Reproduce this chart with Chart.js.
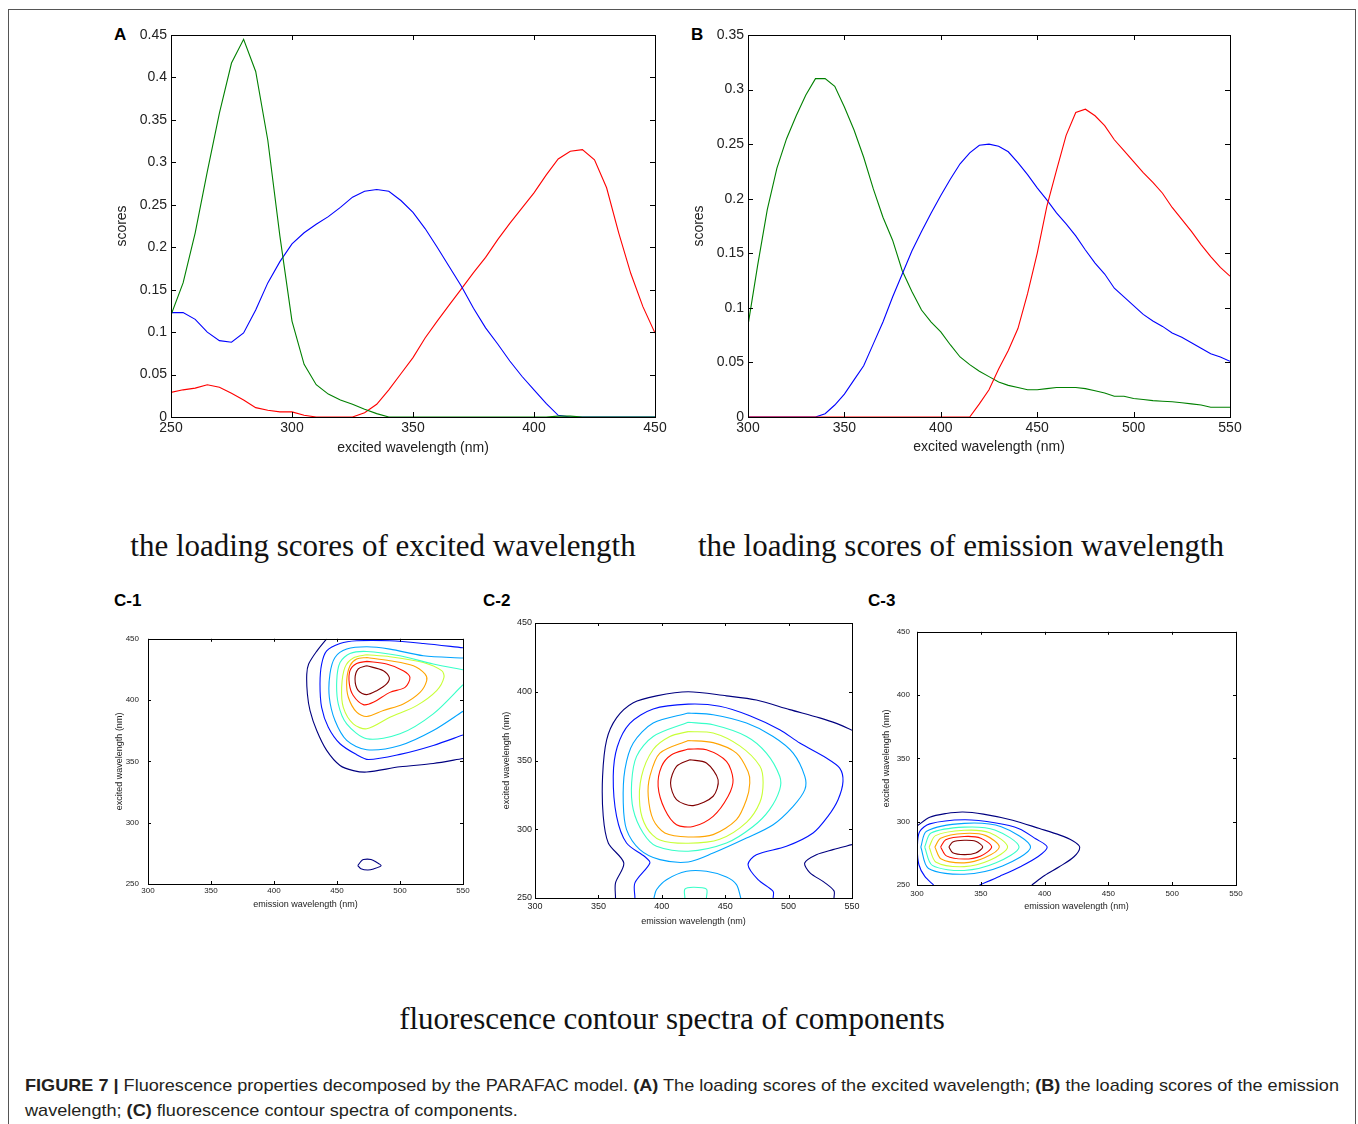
<!DOCTYPE html>
<html><head><meta charset="utf-8">
<script src="https://cdn.jsdelivr.net/npm/chart.js@4.4.1/dist/chart.umd.min.js"></script>
<style>
html,body{margin:0;padding:0;background:#fff;width:1358px;height:1124px;overflow:hidden;position:relative;font-family:'Liberation Sans',Arial,sans-serif;}
.frame{position:absolute;left:8px;top:9px;width:1348px;height:1200px;border:1px solid #555;box-sizing:border-box;}
canvas{position:absolute;}
.lbl{position:absolute;font-weight:bold;font-size:17px;line-height:20px;color:#000;}
.ttl{position:absolute;font-family:'Liberation Serif','Times New Roman',serif;font-size:31px;line-height:40px;white-space:nowrap;color:#111;text-align:center;width:700px;}
.cap{position:absolute;left:25px;font-size:17px;line-height:25px;white-space:nowrap;color:#231f20;transform-origin:0 0;}
</style></head><body>
<div class="frame"></div>
<div class="lbl" style="left:114px;top:25px;">A</div>
<div class="lbl" style="left:691px;top:25px;">B</div>
<div class="lbl" style="left:114px;top:591px;">C-1</div>
<div class="lbl" style="left:483px;top:591px;">C-2</div>
<div class="lbl" style="left:868px;top:591px;">C-3</div>
<div class="ttl" style="left:33px;top:526px;">the loading scores of excited wavelength</div>
<div class="ttl" style="left:611px;top:526px;">the loading scores of emission wavelength</div>
<div class="ttl" style="left:322px;top:999px;">fluorescence contour spectra of components</div>
<div class="cap" id="cap1" style="top:1073px;"><b>FIGURE 7 |</b> Fluorescence properties decomposed by the PARAFAC model. <b>(A)</b> The loading scores of the excited wavelength; <b>(B)</b> the loading scores of the emission</div>
<div class="cap" id="cap2" style="top:1098px;">wavelength; <b>(C)</b> fluorescence contour spectra of components.</div>
<script>
// ---------------- DATA ----------------
// Panel A: excitation loadings
const exWavelengthA = [250,255,260,265,270,275,280,285,290,295,300,305,310,315,320,325,330,335,340,345,350,355,360,365,370,375,380,385,390,395,400,405,410,415,420,425,430,435,440,445,450];
const scoreA_green = [0.120,0.158,0.217,0.289,0.358,0.417,0.445,0.407,0.326,0.213,0.113,0.062,0.038,0.027,0.020,0.015,0.009,0.004,0,0,0,0,0,0,0,0,0,0,0,0,0,0,0.001,0.001,0,0,0,0,0,0,0];
const scoreA_blue = [0.123,0.123,0.115,0.100,0.090,0.088,0.099,0.126,0.158,0.183,0.204,0.217,0.227,0.236,0.247,0.259,0.266,0.268,0.266,0.255,0.241,0.222,0.200,0.177,0.154,0.128,0.105,0.086,0.066,0.048,0.032,0.016,0.002,0,0,0,0,0,0,0,0];
const scoreA_red = [0.029,0.032,0.034,0.038,0.035,0.028,0.020,0.011,0.008,0.006,0.006,0.002,0,0,0,0,0.005,0.015,0.032,0.051,0.070,0.093,0.113,0.132,0.151,0.170,0.188,0.209,0.228,0.246,0.264,0.285,0.304,0.313,0.315,0.303,0.270,0.217,0.169,0.130,0.099];
const xTicksA = [250,300,350,400,450];
const yTicksA = [0,0.05,0.1,0.15,0.2,0.25,0.3,0.35,0.4,0.45];
const yTickLabelsA = ['0','0.05','0.1','0.15','0.2','0.25','0.3','0.35','0.4','0.45'];

// Panel B: emission loadings
const emWavelengthB = [300,305,310,315,320,325,330,335,340,345,350,355,360,365,370,375,380,385,390,395,400,405,410,415,420,425,430,435,440,445,450,455,460,465,470,475,480,485,490,495,500,505,510,515,520,525,530,535,540,545,550];
const scoreB_green = [0.084,0.139,0.190,0.228,0.255,0.276,0.295,0.310,0.310,0.303,0.284,0.263,0.238,0.209,0.183,0.162,0.134,0.115,0.098,0.087,0.078,0.066,0.055,0.048,0.042,0.037,0.032,0.029,0.027,0.025,0.025,0.026,0.027,0.027,0.027,0.026,0.024,0.022,0.019,0.019,0.017,0.016,0.015,0.0145,0.014,0.013,0.012,0.011,0.009,0.009,0.009];
const scoreB_blue = [0,0,0,0,0,0,0,0,0.003,0.011,0.021,0.034,0.047,0.067,0.087,0.110,0.131,0.152,0.170,0.187,0.203,0.218,0.232,0.242,0.249,0.250,0.248,0.243,0.233,0.222,0.210,0.199,0.187,0.177,0.166,0.153,0.141,0.131,0.118,0.110,0.102,0.094,0.088,0.083,0.077,0.073,0.068,0.063,0.058,0.055,0.051];
const scoreB_red = [0,0,0,0,0,0,0,0,0,0,0,0,0,0,0,0,0,0,0,0,0,0,0,0,0.012,0.025,0.044,0.061,0.081,0.113,0.150,0.193,0.226,0.258,0.279,0.282,0.276,0.267,0.254,0.244,0.234,0.224,0.215,0.205,0.192,0.181,0.170,0.158,0.147,0.137,0.129];
const xTicksB = [300,350,400,450,500,550];
const yTicksB = [0,0.05,0.1,0.15,0.2,0.25,0.3,0.35];
const yTickLabelsB = ['0','0.05','0.1','0.15','0.2','0.25','0.3','0.35'];

// Panel C: contour lines [emission, excitation]
const xTicksC = [300,350,400,450,500,550];
const yTicksC = [250,300,350,400,450];
const levelColors = ['#000080','#0012ff','#00a4ff','#37ffc8','#c8ff37','#ffa400','#ff1200','#800000'];

const c1_lv1 = [[441.8,450],[434,440],[427.5,429.4],[426,421],[426.5,405],[428.6,391.5],[433.9,375.2],[441.8,359],[452.4,346.7],[463,342.5],[473.6,341.3],[500,345.6],[526.4,348.3],[550,352.4]];
const c1_lv1b = [[466.5,265],[469,268.5],[471,270],[477,270],[481,268],[485,265],[479,262.3],[474.4,261.4],[469,262.5],[466.5,265]];
const c1_lv2 = [[550,442.7],[518.5,446.2],[492,448.4],[465.6,448.4],[452.4,446.2],[441.8,440.2],[437.8,429.4],[436.5,413.2],[437.8,394.1],[443.1,377.9],[452.4,364.4],[465.6,355.5],[475,351.5],[500,355.7],[526.4,363],[550,371.5]];
const c1_lv3 = [[550,434.3],[518.5,436.2],[492,441.6],[473.6,443.5],[457.7,441.6],[448.4,434.8],[444.4,421.3],[443.9,402.3],[448.4,383.3],[457.7,367.1],[473.6,359.5],[500,363],[526.4,375.2],[550,390.9]];
const c1_lv4 = [[550,424.8],[526.4,429.4],[500,436.2],[473.6,439.7],[460.3,438],[452.4,430.7],[449.8,415.9],[451,396.9],[457.7,380.6],[473.6,368.5],[500,372.5],[526.4,388.8],[550,412.6]];
const c1_lv5 = [[473.6,437],[492,435.4],[518.5,430.7],[533.1,424],[534.9,418.5],[529.1,407.7],[513.2,395.5],[492,386],[473.6,376.6],[462.9,380.6],[455,394.1],[453.7,410.4],[456.3,426.7],[462.9,434.3],[473.6,437]];
const c1_lv6 = [[473.6,434.8],[492,432.1],[510.6,428],[519.8,421.3],[521.2,415.9],[515.9,406.3],[502.6,396.9],[486.8,391.5],[473.6,386.6],[465.6,390.1],[459,402.3],[457.7,415.9],[460.3,428],[465.6,433.5],[473.6,434.8]];
const c1_lv7 = [[473.6,431.6],[489.4,429.4],[502.6,424],[507.9,418.5],[504,410.4],[492,406.3],[478.8,398.2],[470.9,396.3],[462.9,403.7],[459.8,413.2],[460.3,424],[465.6,429.9],[473.6,431.6]];
const c1_lv8 = [[473.6,428],[486.8,424],[491.5,418.5],[489.4,413.2],[481.5,407.7],[473.6,404.5],[466.9,407.7],[464.3,417.2],[466.9,425.4],[473.6,428]];

const c2_lv1 = [[363.5,250],[363.5,261],[370,275.5],[357.8,290],[353.8,309.6],[353.3,338.5],[356.5,365],[364.3,381],[377.5,392],[395.8,397],[420.8,400],[451,397],[474.6,394],[500.9,387],[524.5,381],[537.7,377],[550,372]];
const c2_lv1b = [[550,288.8],[535,285.2],[521.9,281.5],[512.7,275.5],[516.7,268.5],[528.5,261.2],[535.8,255.2],[535.8,250]];
const c2_lv2 = [[378.8,250],[378.8,261],[390.6,275.5],[386.7,280],[372.2,290],[364.3,309.6],[361.7,338.5],[364.9,360],[374.8,377],[393.2,387.5],[420.8,391],[445.7,389.5],[469.4,382.6],[493,372.4],[508.8,362.7],[529.8,351.8],[540.3,344.5],[542.9,334.8],[539,321.5],[531,309.4],[519.3,297.3],[498.3,287.6],[474.6,281.5],[468,274.2],[475.9,263.3],[487.8,254.8],[487.8,250]];
const c2_lv3 = [[420.8,384.5],[440.5,383.3],[466.8,377.2],[487.8,367.5],[503.6,355.4],[512.8,338.5],[512.8,328.8],[503.6,316.7],[487.8,303.3],[466.8,293.6],[440.5,282.7],[420.8,276.2],[398.5,277.9],[382.7,285.2],[372.2,299.7],[369.6,319.2],[370.9,343.3],[377.5,362.7],[393.2,377.2],[420.8,384.5]];
const c2_lv3b = [[393.8,250],[395.8,256],[403.7,263.3],[419.5,269.4],[435.2,269.4],[451,265.3],[458.9,259.7],[462.3,250]];
const c2_lv4 = [[420.8,377.8],[440.5,376],[466.8,367.5],[482.5,355.4],[493,338.5],[493,328.8],[485,314.3],[472,302],[451,290],[420.8,284],[395.8,287.6],[385.3,297.3],[377.5,314.3],[376.2,333.7],[380.1,353],[393.2,367.5],[420.8,377.8]];
const c2_lv4b = [[418.2,250],[418.2,256.5],[424.7,257.8],[435.2,256.5],[435.2,250]];
const c2_lv5 = [[420.8,371],[440.5,370],[461.5,360.6],[477.3,346],[479.9,334],[477.3,319.4],[466.8,305],[445.7,292.7],[420.8,289.8],[398.5,292.2],[388,301.2],[382.7,317],[384,338.5],[393.2,358],[406.4,367.5],[420.8,371]];
const c2_lv6 = [[420.8,364.6],[440.5,363],[458.9,355.4],[468,342],[469.4,333.7],[466.8,321.6],[458.9,307],[440.5,296.1],[420.8,294.4],[402.4,297.3],[393.2,307],[389.3,324],[390.6,338.5],[398.5,355.4],[420.8,364.6]];
const c2_lv7 = [[420.8,358.3],[435.2,357.8],[451,349.3],[456.2,336],[452.3,324],[440.5,309.4],[424.7,302],[411.6,303.3],[402.4,314.3],[397.1,331.2],[399.8,345.7],[407.7,354.2],[420.8,358.3]];
const c2_lv8 = [[422.1,350.6],[435.2,348.2],[444.4,336],[440.5,324],[424.7,317.2],[411.6,321.6],[406.9,333.7],[411.6,345.7],[422.1,350.6]];

const c3_lv1 = [[300,296.5],[310,303.5],[323,306.5],[336,307.7],[352,306],[375,301.2],[396,294.6],[412,289.4],[422,285],[427.5,280],[423,272.3],[411.5,264.4],[400,257.5],[390,250]];
const c3_lv2 = [[313,250],[306,257],[301.5,266],[300.3,280],[302,292],[310,298.3],[337,301.5],[362,299],[380,294.5],[393,286.5],[402,280],[395,272.5],[381,264.5],[365,257],[349,250]];
const c3_lv3 = [[303,280],[307.5,292.5],[337,298.7],[366,296],[389,280],[367,265],[337,258.5],[309,263],[303,280]];
const c3_lv4 = [[306,280],[311,291],[337,295.7],[361,293.5],[380,280],[362,267.5],[337,261.5],[312,265.5],[306,280]];
const c3_lv5 = [[309.5,280],[314.5,289],[337,293.2],[357,291.3],[371,280],[357,269.5],[337,264.5],[315,268],[309.5,280]];
const c3_lv6 = [[314,280],[318.5,287],[337,290.7],[354,289],[364.5,280],[353,271.5],[337,267.5],[319,270.5],[314,280]];
const c3_lv7 = [[318.5,280],[322.5,285.8],[337,288.3],[350,287],[358.5,280],[350,273],[337,270.5],[323,273],[318.5,280]];
const c3_lv8 = [[325,280],[328,284],[337,285.3],[346,284.5],[351.5,280],[346,275.3],[337,274],[328,275.5],[325,280]];

// ---------------- RENDERING ----------------
const FONT = "'Liberation Sans', Arial, sans-serif";

const matlabBox = {
  id: 'matlabBox',
  afterDatasetsDraw(chart, args, o) {
    const {ctx, chartArea: a, scales: {x, y}} = chart;
    const L = o.len || 5;
    ctx.save();
    ctx.strokeStyle = '#000';
    ctx.lineWidth = 1;
    ctx.beginPath();
    x.ticks.forEach(t => {
      const px = Math.round(x.getPixelForValue(t.value)) + 0.5;
      ctx.moveTo(px, a.bottom); ctx.lineTo(px, a.bottom - L);
      ctx.moveTo(px, a.top); ctx.lineTo(px, a.top + L);
    });
    y.ticks.forEach(t => {
      const py = Math.round(y.getPixelForValue(t.value)) + 0.5;
      ctx.moveTo(a.left, py); ctx.lineTo(a.left + L, py);
      ctx.moveTo(a.right, py); ctx.lineTo(a.right - L, py);
    });
    ctx.stroke();
    ctx.lineWidth = o.bw || 1;
    ctx.strokeRect(Math.round(a.left) + 0.5, Math.round(a.top) + 0.5, Math.round(a.right - a.left), Math.round(a.bottom - a.top));
    ctx.restore();
  }
};

function mkCanvas(left, top, w, h) {
  const c = document.createElement('canvas');
  c.width = w; c.height = h;
  c.style.left = left + 'px'; c.style.top = top + 'px';
  c.style.width = w + 'px'; c.style.height = h + 'px';
  document.body.appendChild(c);
  return c;
}

function buildChart(p) {
  const c = mkCanvas(p.left, p.top, p.w, p.h);
  return new Chart(c, {
    type: p.type,
    data: {datasets: p.datasets},
    plugins: [matlabBox],
    options: {
      responsive: false, animation: false, devicePixelRatio: 1,
      layout: {padding: {top: p.padTop, right: p.padRight, left: 0, bottom: 0}},
      plugins: {legend: {display: false}, tooltip: {enabled: false}, matlabBox: {len: p.tickLen}},
      elements: {point: {radius: 0}},
      scales: {
        x: {
          type: 'linear', min: p.xmin, max: p.xmax,
          afterFit: s => { s.height = p.xAxisH; },
          afterBuildTicks: s => { s.ticks = p.xTicks.map(v => ({value: v})); },
          grid: {display: false, drawTicks: false, tickLength: 0}, border: {display: false},
          ticks: {autoSkip: false, maxRotation: 0, minRotation: 0, padding: p.xTickPad, color: '#222',
            font: {family: FONT, size: p.tickFont}, callback: v => String(v)},
          title: {display: true, text: p.xTitle, color: '#222', font: {family: FONT, size: p.titleFont},
            padding: {top: 0, bottom: p.xTitlePad}}
        },
        y: {
          type: 'linear', min: p.ymin, max: p.ymax,
          afterFit: s => { s.width = p.yAxisW; },
          afterBuildTicks: s => { s.ticks = p.yTicks.map(v => ({value: v})); },
          grid: {display: false, drawTicks: false, tickLength: 0}, border: {display: false},
          ticks: {autoSkip: false, padding: p.yTickPad, color: '#222',
            font: {family: FONT, size: p.tickFont},
            callback: (v, i) => p.yLabels ? p.yLabels[i] : String(v)},
          title: {display: true, text: p.yTitle, color: '#222', font: {family: FONT, size: p.titleFont},
            padding: {top: p.yTitlePad, bottom: 0}}
        }
      }
    }
  });
}

function lineSet(xs, ys, color) {
  return {data: xs.map((x, i) => ({x: x, y: ys[i]})), borderColor: color, borderWidth: 1.1,
    pointRadius: 0, tension: 0, fill: false};
}
function contourSet(pts, color) {
  return {data: pts.map(p => ({x: p[0], y: p[1]})), borderColor: color, borderWidth: 1.1,
    showLine: true, pointRadius: 0, tension: 0.3, fill: false};
}

// Panel A
buildChart({type: 'line', left: 100, top: 20, w: 580, h: 450, padTop: 15, padRight: 25,
  xAxisH: 53, yAxisW: 71, xmin: 250, xmax: 450, ymin: 0, ymax: 0.45,
  xTicks: xTicksA, yTicks: yTicksA, yLabels: yTickLabelsA,
  tickFont: 14, titleFont: 14, xTickPad: 3, yTickPad: 4, xTitlePad: 13, yTitlePad: 14, tickLen: 5,
  xTitle: 'excited wavelength (nm)', yTitle: 'scores',
  datasets: [lineSet(exWavelengthA, scoreA_green, '#008000'), lineSet(exWavelengthA, scoreA_blue, '#0000ff'), lineSet(exWavelengthA, scoreA_red, '#ff0000')]});

// Panel B
buildChart({type: 'line', left: 680, top: 20, w: 580, h: 450, padTop: 15, padRight: 30,
  xAxisH: 53, yAxisW: 68, xmin: 300, xmax: 550, ymin: 0, ymax: 0.35,
  xTicks: xTicksB, yTicks: yTicksB, yLabels: yTickLabelsB,
  tickFont: 14, titleFont: 14, xTickPad: 3, yTickPad: 4, xTitlePad: 14, yTitlePad: 11, tickLen: 5,
  xTitle: 'excited wavelength (nm)', yTitle: 'scores',
  datasets: [lineSet(emWavelengthB, scoreB_red, '#ff0000'), lineSet(emWavelengthB, scoreB_blue, '#0000ff'), lineSet(emWavelengthB, scoreB_green, '#008000')]});

// Panel C-1
buildChart({type: 'scatter', left: 100, top: 625, w: 380, h: 300, padTop: 13, padRight: 17,
  xAxisH: 41, yAxisW: 48, xmin: 300, xmax: 550, ymin: 250, ymax: 450,
  xTicks: xTicksC, yTicks: yTicksC,
  tickFont: 8, titleFont: 9, xTickPad: 2, yTickPad: 9, xTitlePad: 15, yTitlePad: 14, tickLen: 3,
  xTitle: 'emission wavelength (nm)', yTitle: 'excited wavelength (nm)',
  datasets: [c1_lv1, c1_lv1b, c1_lv2, c1_lv3, c1_lv4, c1_lv5, c1_lv6, c1_lv7, c1_lv8].map((d, i) =>
    contourSet(d, levelColors[[0,0,1,2,3,4,5,6,7][i]]))});

// Panel C-2
buildChart({type: 'scatter', left: 480, top: 610, w: 390, h: 330, padTop: 13, padRight: 18,
  xAxisH: 42, yAxisW: 55, xmin: 300, xmax: 550, ymin: 250, ymax: 450,
  xTicks: xTicksC, yTicks: yTicksC,
  tickFont: 9, titleFont: 9, xTickPad: 3, yTickPad: 3, xTitlePad: 13, yTitlePad: 21, tickLen: 3,
  xTitle: 'emission wavelength (nm)', yTitle: 'excited wavelength (nm)',
  datasets: [c2_lv1, c2_lv1b, c2_lv2, c2_lv3, c2_lv3b, c2_lv4, c2_lv4b, c2_lv5, c2_lv6, c2_lv7, c2_lv8].map((d, i) =>
    contourSet(d, levelColors[[0,0,1,2,2,3,3,4,5,6,7][i]]))});

// Panel C-3
buildChart({type: 'scatter', left: 860, top: 620, w: 390, h: 310, padTop: 11, padRight: 14,
  xAxisH: 45, yAxisW: 57, xmin: 300, xmax: 550, ymin: 250, ymax: 450,
  xTicks: xTicksC, yTicks: yTicksC,
  tickFont: 8, titleFont: 9, xTickPad: 4, yTickPad: 7, xTitlePad: 18, yTitlePad: 21, tickLen: 3,
  xTitle: 'emission wavelength (nm)', yTitle: 'excited wavelength (nm)',
  datasets: [c3_lv1, c3_lv2, c3_lv3, c3_lv4, c3_lv5, c3_lv6, c3_lv7, c3_lv8].map((d, i) =>
    contourSet(d, levelColors[i]))});

// caption fitting
(function () {
  const c1 = document.getElementById('cap1');
  const c2 = document.getElementById('cap2');
  const s = 1314 / c1.getBoundingClientRect().width;
  c1.style.transform = 'scaleX(' + s + ')';
  c2.style.transform = 'scaleX(' + s + ')';
})();
</script>
</body></html>
